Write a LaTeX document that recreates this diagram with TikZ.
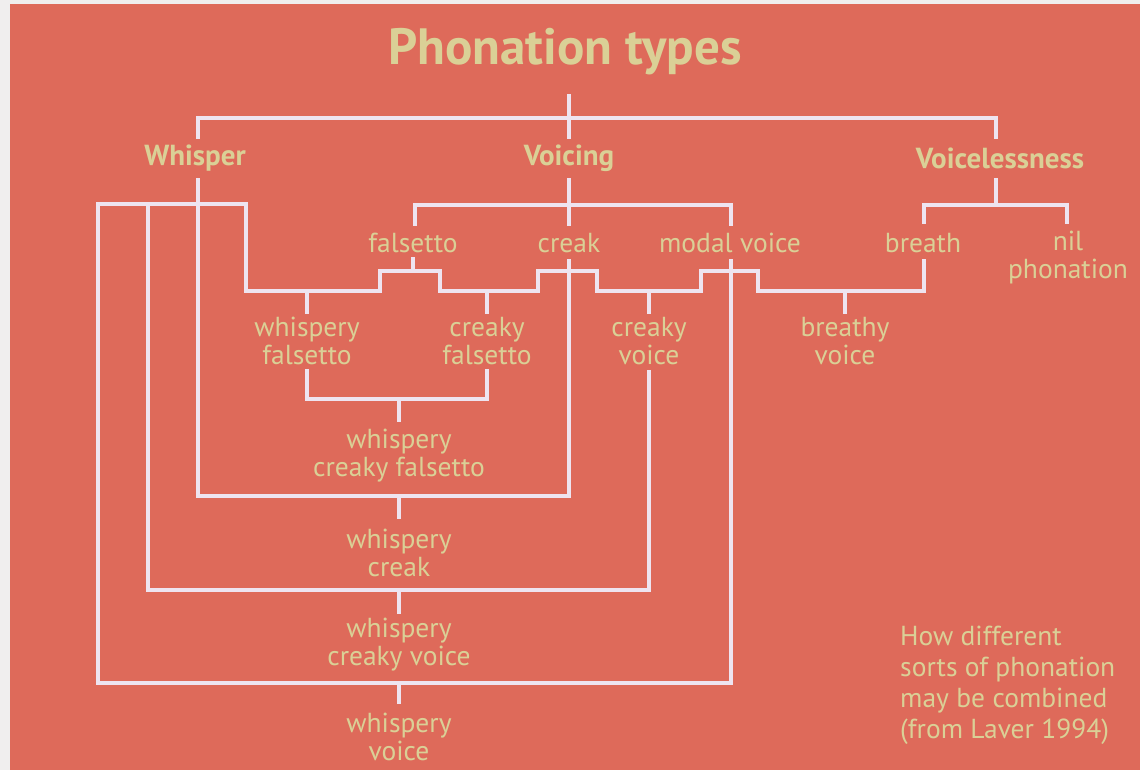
\documentclass[tikz,border=0pt]{standalone}
\usepackage{fontspec}
\setmainfont{PT Sans}
\definecolor{bg}{RGB}{222,106,90}
\definecolor{edge}{RGB}{240,238,238}
\definecolor{ink}{RGB}{218,208,150}
\definecolor{lnc}{RGB}{238,228,240}
\tikzset{
  ln/.style={draw=lnc, line width=4.5pt, line cap=rect, line join=miter},
  lab/.style={text=ink, inner sep=0pt, align=center, font=\fontsize{27.5}{28}\selectfont},
  head/.style={text=ink, inner sep=0pt, font=\fontsize{29}{30}\selectfont\bfseries},
  ttl/.style={text=ink, inner sep=0pt, font=\fontsize{51}{54}\selectfont\bfseries},
  note/.style={text=ink, inner sep=0pt, align=left, anchor=west, font=\fontsize{27.5}{31}\selectfont}
}
\begin{document}
\begin{tikzpicture}[x=1pt,y=-1pt]
\fill[edge] (0,0) rectangle (1140,770);
\fill[bg] (10,4) rectangle (1140,770);
\useasboundingbox (0,0) rectangle (1140,770);

% texts
\node[ttl] (title) at (565,52) {Phonation types};
\node[head] (whisper) at (195,158) {Whisper};
\node[head] (voicing) at (569,158) {Voicing};
\node[head] (voiceless) at (1000,158) {Voicelessness};
\node[lab] (falsetto) at (413,243) {falsetto};
\node[lab] (creak) at (569,243) {creak};
\node[lab] (modal) at (730,243) {modal voice};
\node[lab] (breath) at (923,243) {breath};
\node[lab] (nil) at (1068,258) {nil\\phonation};
\node[lab] (wf) at (307,341) {whispery\\falsetto};
\node[lab] (cf) at (487,341) {creaky\\falsetto};
\node[lab] (cv) at (649,341) {creaky\\voice};
\node[lab] (bv) at (845,341) {breathy\\voice};
\node[lab] (wcf) at (399,456) {whispery\\creaky falsetto};
\node[lab] (wc) at (399,553) {whispery\\creak};
\node[lab] (wcv) at (399,645) {whispery\\creaky voice};
\node[lab] (wv) at (399,737) {whispery\\voice};
\node[note] (cap) at (900,685) {How different\\sorts of phonation\\may be combined\\(from Laver 1994)};

% junction coordinates
\coordinate (t0) at (569,96);
\coordinate (t1) at (569,118);
\coordinate (whT) at (198,137);
\coordinate (voT) at (569,137);
\coordinate (vlT) at (996,137);
\coordinate (whB) at (198,180);
\coordinate (voB) at (569,180);
\coordinate (vlB) at (996,180);

% top level
\draw[ln] (t0) -- (t1);
\draw[ln] (whT) -- (198,118) -- (996,118) -- (vlT);
\draw[ln] (t1) -- (voT);

% whisper branch
\draw[ln] (whB) -- (198,496);
\draw[ln] (98,683) -- (98,204) -- (246,204) -- (246,291);
\draw[ln] (148,204) -- (148,590);

% voicing branch
\draw[ln] (voB) -- (569,224);
\draw[ln] (415,224) -- (415,205) -- (731,205) -- (731,224);
\draw[ln] (569,261) -- (569,496);
\draw[ln] (413,259) -- (413,271);
\draw[ln] (731,261) -- (731,683);

% voicelessness branch
\draw[ln] (vlB) -- (996,205);
\draw[ln] (924,222) -- (924,205) -- (1067,205) -- (1067,222);

% zig-zag combination line
\draw[ln] (246,291) -- (380,291) -- (380,271) -- (440,271) -- (440,291)
  -- (538,291) -- (538,271) -- (597,271) -- (597,291) -- (701,291)
  -- (701,271) -- (758,271) -- (758,291) -- (924,291) -- (924,261);

% stubs to second-level combos
\draw[ln] (307,291) -- (307,312);
\draw[ln] (487,291) -- (487,312);
\draw[ln] (649,291) -- (649,312);
\draw[ln] (845,291) -- (845,312);

% whispery creaky falsetto
\draw[ln] (307,371) -- (307,399) -- (487,399) -- (487,371);
\draw[ln] (399,399) -- (399,420);

% whispery creak
\draw[ln] (198,496) -- (569,496);
\draw[ln] (399,496) -- (399,517);

% whispery creaky voice
\draw[ln] (649,372) -- (649,590);
\draw[ln] (148,590) -- (649,590);
\draw[ln] (399,590) -- (399,612);

% whispery voice
\draw[ln] (98,683) -- (731,683);
\draw[ln] (399,683) -- (399,702);
\end{tikzpicture}
\end{document}
